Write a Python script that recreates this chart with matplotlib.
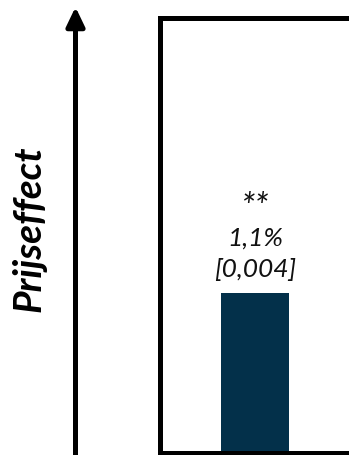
import matplotlib.pyplot as plt

# Waarden voor de staaf
categorieen = ["Prijseffect"]
effect = [1.1]
significantie = ["**"]
p_waarden = ["0,004"]

balk_kleur = "#03304a"
lettertype = ["Lato", "DejaVu Sans"]

fig = plt.figure(figsize=(3.49, 4.55), dpi=100)

# Assen: kader met dikke zwarte rand
ax = fig.add_axes([159.5 / 349, 2 / 455, (351 - 159.5) / 349, (437.5 - 2) / 455])
ax.bar([0], effect, width=0.71, color=balk_kleur)
ax.set_xlim(-1, 1)
ax.set_ylim(0, 3)
ax.set_xticks([])
ax.set_yticks([])
for spine in ax.spines.values():
    spine.set_linewidth(3.6)
    spine.set_color("black")

# Labels boven de staaf: p-waarde, effect en significantie (afstand in punten)
for i, v in enumerate(effect):
    regels = [(f"[{p_waarden[i]}]", 17, 19),
              (f"{v:.1f}%".replace(".", ","), 40, 19),
              (significantie[i], 61, 26)]
    for tekst, afstand, grootte in regels:
        ax.annotate(tekst, xy=(i, v), xytext=(0, afstand), textcoords="offset points",
                    ha="center", va="center", fontsize=grootte, style="italic",
                    family=lettertype, color="#111111")

# Verticale pijl links van het kader
fig.add_artist(plt.Annotation("", xy=(75.5, 448), xytext=(75.5, -10),
                              xycoords="figure pixels", textcoords="figure pixels",
                              arrowprops=dict(arrowstyle="-|>,head_length=1.15,head_width=0.55",
                                              lw=3.6, color="black", mutation_scale=10,
                                              shrinkA=0, shrinkB=0)))

fig.text(29 / 349, 226 / 455, categorieen[0], rotation=90, ha="center", va="center",
         fontsize=28, fontweight="bold", style="italic", family=lettertype)

fig.savefig("out.png", dpi=100)
